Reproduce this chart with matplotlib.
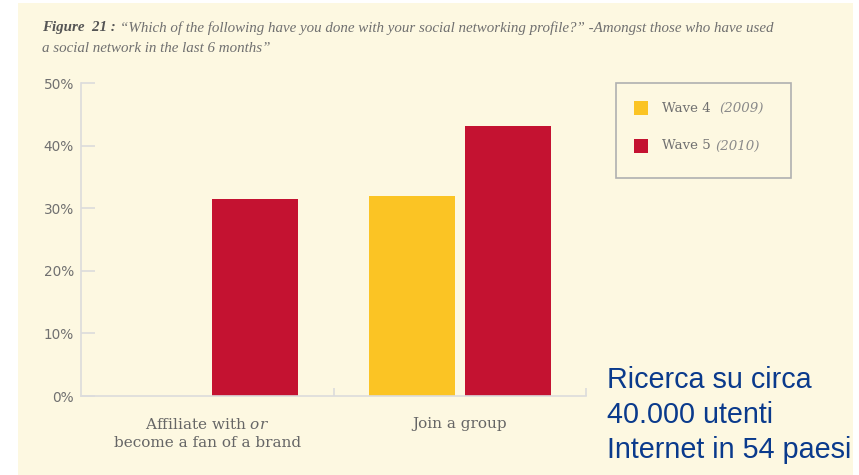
import matplotlib.pyplot as plt
from matplotlib.patches import Rectangle

# dati
categorie = ['Affiliate with $\\it{or}$\nbecome a fan of a brand', 'Join a group']
wave4 = [0.0, 31.9]   # 2009
wave5 = [31.5, 43.2]  # 2010
etichette_y = ['0%', '10%', '20%', '30%', '40%', '50%']

giallo = '#FBC424'
rosso = '#C41231'
crema = '#FDF8E1'
grigio = '#707070'

plt.rcParams['mathtext.fontset'] = 'dejavuserif'

fig = plt.figure(figsize=(8.59, 4.75), dpi=100)
fig.patch.set_facecolor('white')
# pannello color crema
fig.patches.append(Rectangle((18 / 859, 0), (853 - 18) / 859, 1 - 3 / 475,
                             transform=fig.transFigure, facecolor=crema,
                             edgecolor='none', zorder=-5))

ax = fig.add_axes([81 / 859, 1 - 396 / 475, (586 - 81) / 859, (396 - 83.3) / 475])
ax.set_facecolor(crema)
ax.patch.set_alpha(0)

x = list(range(len(categorie)))
w = 0.34
ax.bar([i - 0.188 for i in x], wave4, width=w, color=giallo, label='Wave 4')
ax.bar([i + 0.19 for i in x], wave5, width=w, color=rosso, label='Wave 5')

ax.set_xlim(-0.5, 1.5)
ax.set_ylim(0, 50)
ax.set_yticks(range(0, 51, 10))
ax.set_yticklabels(etichette_y, fontsize=9.8, color=grigio, family='DejaVu Sans')
ax.set_xticks([0.5, 1.5])
ax.set_xticklabels([])
ax.tick_params(axis='y', direction='in', length=10, width=1.2, color='#dcdcdc', pad=5)
ax.tick_params(axis='x', direction='in', length=6, width=1.2, color='#dcdcdc')
for s in ['top', 'right']:
    ax.spines[s].set_visible(False)
for s in ['left', 'bottom']:
    ax.spines[s].set_color('#dcdcdc')
    ax.spines[s].set_linewidth(1.2)

# etichette delle categorie
for i, c in enumerate(categorie):
    ax.text(i, -3.4, c, ha='center', va='top', fontsize=11, color='#666666',
            family='DejaVu Serif', linespacing=1.35, transform=ax.transData)

# titolo
r = fig.canvas.get_renderer()
t1 = fig.text(42 / 859, 1 - 28 / 475, 'Figure  21 :', fontsize=10.8, fontweight='bold',
              style='italic', family='Liberation Serif', color='#555555', va='center')
bb = t1.get_window_extent(r)
fig.text(bb.x1 / 859 + 4 / 859, 1 - 28 / 475,
         '\u201cWhich of the following have you done with your social networking profile?\u201d '
         '-Amongst those who have used',
         fontsize=10.8, style='italic', family='Liberation Serif', color=grigio, va='center')
fig.text(42 / 859, 1 - 49 / 475, 'a social network in the last 6 months\u201d',
         fontsize=10.8, style='italic', family='Liberation Serif', color=grigio, va='center')

# legenda
fig.patches.append(Rectangle((616 / 859, 1 - 178 / 475), 175 / 859, 95 / 475,
                             transform=fig.transFigure, facecolor='none',
                             edgecolor='#b0b0b0', linewidth=1.2, zorder=3))
for j, (col, nome, anno) in enumerate([(giallo, 'Wave 4  ', '(2009)'),
                                       (rosso, 'Wave 5 ', '(2010)')]):
    yc = 108 + j * 38
    fig.patches.append(Rectangle((634 / 859, 1 - (yc + 7) / 475), 14 / 859, 14 / 475,
                                 transform=fig.transFigure, facecolor=col,
                                 edgecolor='none', zorder=3))
    tn = fig.text(662 / 859, 1 - yc / 475, nome, fontsize=9.6, family='DejaVu Serif',
                  color=grigio, va='center')
    b = tn.get_window_extent(r)
    fig.text(b.x1 / 859, 1 - yc / 475, anno, fontsize=9.6, style='italic',
             family='DejaVu Serif', color='#8a8a8a', va='center')

# nota
fig.text(607 / 859, 1 - 415 / 475, 'Ricerca su circa\n40.000 utenti\nInternet in 54 paesi',
         fontsize=20.7, family='Liberation Sans', color='#0A3A8C', va='center',
         linespacing=1.3)

fig.savefig('out.png', dpi=100, facecolor=fig.get_facecolor())
